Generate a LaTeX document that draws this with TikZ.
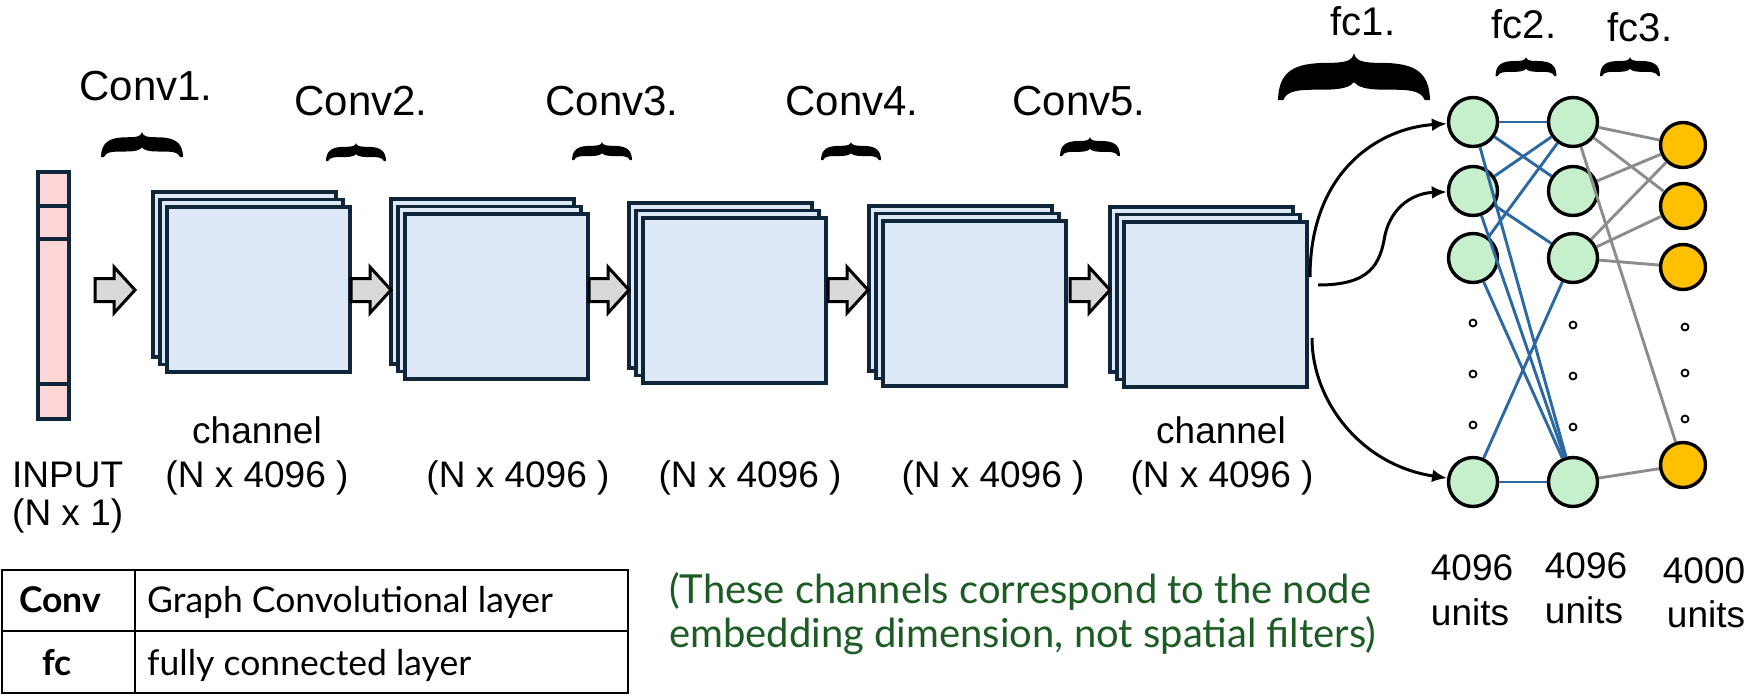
\documentclass[tikz,border=0pt]{standalone}
\usepackage{fontspec}
\setmainfont{Liberation Sans}
\newfontfamily\gillf{Lato}
\usetikzlibrary{arrows.meta}
\definecolor{navyline}{RGB}{14,37,58}
\definecolor{pinkfill}{RGB}{255,214,214}
\definecolor{bluefill}{RGB}{221,233,246}
\definecolor{arrgray}{RGB}{217,217,217}
\definecolor{nodegreen}{RGB}{198,240,204}
\definecolor{nodeorange}{RGB}{255,192,0}
\definecolor{edgeblue}{RGB}{44,104,162}
\definecolor{edgegray}{RGB}{140,140,140}
\definecolor{notegreen}{RGB}{28,92,36}
\tikzset{
  sheet/.style={draw=navyline, fill=bluefill, line width=3.4},
  inbar/.style={draw=navyline, fill=pinkfill, line width=3.4},
  garrow/.style={draw=black, fill=arrgray, line width=3, line join=miter},
  gnode/.style={circle, draw=black, fill=nodegreen, line width=3.4, minimum size=49, inner sep=0},
  onode/.style={circle, draw=black, fill=nodeorange, line width=3.4, minimum size=45, inner sep=0},
  dotnode/.style={circle, draw=black, fill=white, line width=1.8, minimum size=7, inner sep=0},
  bedge/.style={draw=edgeblue, line width=2.9},
  gedge/.style={draw=edgegray, line width=2.9},
  curvearrow/.style={draw=black, line width=3, -{Latex[length=15,width=13]}},
  lbl/.style={font=\fontsize{37}{44}\selectfont, inner sep=0, anchor=base},
  convlbl/.style={font=\fontsize{42}{50}\selectfont, inner sep=0, anchor=base},
  fclbl/.style={font=\fontsize{40}{48}\selectfont, inner sep=0, anchor=base},
  tabtxt/.style={font=\gillf\fontsize{35.5}{42}\selectfont, inner sep=0},
  notetxt/.style={font=\gillf\fontsize{40}{48}\selectfont, text=notegreen, inner sep=0, anchor=base west}
}
\newcommand{\mybrace}[4]{%
  \begin{scope}[shift={(#1,#2)}, xscale=#3/2, yscale=#4]
    \fill[black] (0,0) .. controls (0.02,0.16) and (0.1,0.21) .. (0.35,0.21)
      .. controls (0.8,0.21) and (0.99,0.4) .. (1,1) -- (0.93,1)
      .. controls (0.88,0.78) and (0.7,0.78) .. (0.4,0.78)
      .. controls (0.15,0.78) and (0.05,0.72) .. (0,0.62)
      .. controls (-0.05,0.72) and (-0.15,0.78) .. (-0.4,0.78)
      .. controls (-0.7,0.78) and (-0.88,0.78) .. (-0.93,1) -- (-1,1)
      .. controls (-0.99,0.4) and (-0.8,0.21) .. (-0.35,0.21)
      .. controls (-0.1,0.21) and (-0.02,0.16) .. (0,0) -- cycle;
  \end{scope}}
\newcommand{\convblock}[2]{%
  \draw[sheet] (#1,#2) rectangle ++(183,165);
  \draw[sheet] (#1+7,#2+7.5) rectangle ++(183,165);
  \draw[sheet] (#1+14,#2+15) rectangle ++(183,165);}
\newcommand{\blockarrow}[1]{%
  \draw[garrow] (#1,278.5) -- (#1+19,278.5) -- (#1+19,267) -- (#1+40,290)
    -- (#1+19,313) -- (#1+19,301.5) -- (#1,301.5) -- cycle;}
\begin{document}
\begin{tikzpicture}[x=1pt,y=-1pt]
\useasboundingbox (0,0) rectangle (1749,697);

% input bar
\draw[inbar] (38,172) rectangle (69,419);
\draw[navyline, line width=3.4] (38,206) -- (69,206);
\draw[navyline, line width=3.4] (38,239) -- (69,239);
\draw[navyline, line width=3.4] (38,384) -- (69,384);

% conv blocks
\convblock{153}{192}
\convblock{391}{199}
\convblock{629}{203}
\convblock{869}{206}
\convblock{1110}{207}

% block arrows
\blockarrow{95}
\blockarrow{351}
\blockarrow{589}
\blockarrow{828}
\blockarrow{1070}

% braces
\mybrace{142}{132}{82}{25}
\mybrace{356}{143}{60}{18}
\mybrace{602}{142}{60}{18}
\mybrace{851}{142}{60}{18}
\mybrace{1090}{137}{60}{19}
\mybrace{1354}{53}{152}{47}
\mybrace{1526}{57}{61}{19}
\mybrace{1630}{57}{60}{19}

% layer labels
\node[convlbl] (cv1) at (146,100) {Conv1.};
\node[convlbl] (cv2) at (361,115) {Conv2.};
\node[convlbl] (cv3) at (612,115) {Conv3.};
\node[convlbl] (cv4) at (852,115) {Conv4.};
\node[convlbl] (cv5) at (1079,115) {Conv5.};
\node[fclbl] (fc1) at (1363,35) {fc1.};
\node[fclbl] (fc2) at (1524,38) {fc2.};
\node[fclbl] (fc3) at (1640,41) {fc3.};

% bottom labels
\node[lbl, anchor=base west] (in1) at (12,487) {INPUT};
\node[lbl, anchor=base west] (in2) at (12,525) {(N x 1)};
\node[lbl] (ch1) at (257,443) {channel};
\node[lbl] (d1) at (257,487) {(N x 4096 )};
\node[lbl] (d2) at (518,487) {(N x 4096 )};
\node[lbl] (d3) at (750,487) {(N x 4096 )};
\node[lbl] (d4) at (993,487) {(N x 4096 )};
\node[lbl] (ch5) at (1221,443) {channel};
\node[lbl] (d5) at (1222,487) {(N x 4096 )};

% neurons
\node[gnode] (A1) at (1473,122) {};
\node[gnode] (A2) at (1473,191) {};
\node[gnode] (A3) at (1473,258) {};
\node[gnode] (A4) at (1473,482) {};
\node[gnode] (B1) at (1573,122) {};
\node[gnode] (B2) at (1573,191) {};
\node[gnode] (B3) at (1573,258) {};
\node[gnode] (B4) at (1573,482) {};
\node[onode] (C1) at (1683,145) {};
\node[onode] (C2) at (1683,206) {};
\node[onode] (C3) at (1683,267) {};
\node[onode] (C4) at (1683,465) {};

% dots
\node[dotnode] (da1) at (1473,323) {};
\node[dotnode] (da2) at (1473,374) {};
\node[dotnode] (da3) at (1473,425) {};
\node[dotnode] (db1) at (1573,325) {};
\node[dotnode] (db2) at (1573,376) {};
\node[dotnode] (db3) at (1573,427) {};
\node[dotnode] (dc1) at (1685,327) {};
\node[dotnode] (dc2) at (1685,373) {};
\node[dotnode] (dc3) at (1685,419) {};

% blue edges
\draw[bedge] (A1) -- (B1);
\draw[bedge] (A1) -- (B2);
\draw[bedge] (A1) -- (B4);
\draw[bedge] (A2) -- (B1);
\draw[bedge] (A2) -- (B3);
\draw[bedge] (A2) -- (B4);
\draw[bedge] (A3) -- (B1);
\draw[bedge] (A3) -- (B4);
\draw[bedge] (A4) -- (B4);
\draw[bedge] (A4) -- (B3);

% gray edges
\draw[gedge] (B1) -- (C1);
\draw[gedge] (B1) -- (C2);
\draw[gedge] (B1) -- (C4);
\draw[gedge] (B2) -- (C1);
\draw[gedge] (B3) -- (C1);
\draw[gedge] (B3) -- (C2);
\draw[gedge] (B3) -- (C3);
\draw[gedge] (B4) -- (C4);

% curved arrows from the last block
\coordinate (s1) at (1310,277);
\coordinate (s2) at (1318,285);
\coordinate (s3) at (1312,338);
\draw[curvearrow] (s1) .. controls (1310,170) and (1380,128) .. (A1);
\draw[curvearrow] (s2) .. controls (1370,285) and (1380,265) .. (1385,235)
   .. controls (1392,205) and (1415,193) .. (A2);
\draw[curvearrow] (s3) .. controls (1312,400) and (1360,465) .. (A4);

% unit labels
\node[lbl] (u1a) at (1472,580) {4096};
\node[lbl] (u1b) at (1470,625) {units};
\node[lbl] (u2a) at (1586,578) {4096};
\node[lbl] (u2b) at (1584,623) {units};
\node[lbl] (u3a) at (1704,583) {4000};
\node[lbl] (u3b) at (1706,627) {units};

% legend table
\draw[black, line width=2.6] (2,570) rectangle (628,693);
\draw[black, line width=2.6] (2,631) -- (628,631);
\draw[black, line width=2.6] (135,570) -- (135,693);
\node[tabtxt, anchor=base] (t1) at (60,612) {\bfseries Conv};
\node[tabtxt, anchor=base west] (t2) at (147,612) {Graph Convolutional layer};
\node[tabtxt, anchor=base] (t3) at (57,675) {\bfseries fc};
\node[tabtxt, anchor=base west] (t4) at (147,675) {fully connected layer};

% note
\node[notetxt] (n1) at (669,603) {(These channels correspond to the node};
\node[notetxt] (n2) at (669,647) {embedding dimension, not spatial filters)};
\end{tikzpicture}
\end{document}
